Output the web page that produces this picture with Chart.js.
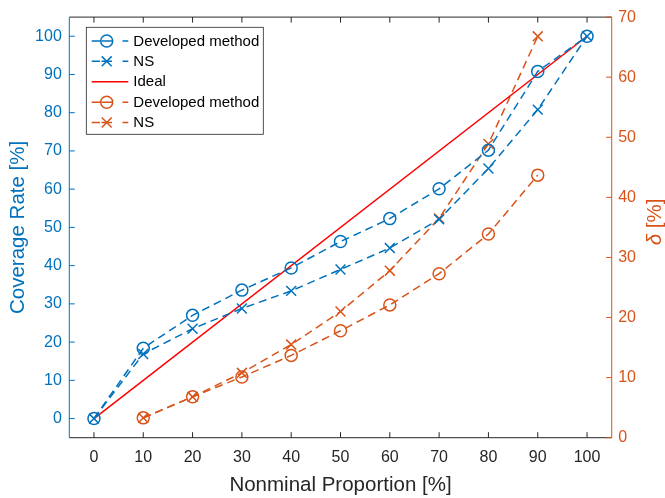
<!DOCTYPE html>
<html><head><meta charset="utf-8">
<script src="https://cdn.jsdelivr.net/npm/chart.js@4"></script>
<style>html,body{margin:0;padding:0;background:#fff}#wrap{width:665px;height:498px}</style>
</head><body><div id="wrap"><canvas id="c" width="665" height="498"></canvas></div>
<script>
// ---- data ----
const proportions = [0, 10, 20, 30, 40, 50, 60, 70, 80, 90, 100];
const coverageDeveloped = [0, 18.4, 27.0, 33.6, 39.4, 46.3, 52.3, 60.1, 70.2, 90.8, 100];
const coverageNS = [0, 16.9, 23.5, 28.8, 33.4, 39.0, 44.6, 52.1, 65.4, 80.8, 100];
const idealX = [0, 100];
const idealY = [0, 100];
const deltaX = [10, 20, 30, 40, 50, 60, 70, 80, 90];
const deltaDeveloped = [3.3, 6.8, 10.1, 13.7, 17.8, 22.1, 27.3, 33.9, 43.7];
const deltaNS = [3.3, 6.8, 10.8, 15.5, 21.0, 27.8, 36.5, 48.9, 66.8];
const xTicks = [0, 10, 20, 30, 40, 50, 60, 70, 80, 90, 100];
const leftTicks = [0, 10, 20, 30, 40, 50, 60, 70, 80, 90, 100];
const rightTicks = [0, 10, 20, 30, 40, 50, 60, 70];
const labels = ['Developed method', 'NS', 'Ideal', 'Developed method', 'NS'];

const BLUE = '#0072BD', ORANGE = '#D95319', RED = '#FF0000', GRAY = '#262626';
const FONT = '"Liberation Sans", Arial, Helvetica, sans-serif';
const pts = (xs, ys) => xs.map((x, i) => ({x: x, y: ys[i]}));

const lineDash = [8, 5];
const datasets = [
  {label: labels[0], data: pts(proportions, coverageDeveloped), yAxisID: 'y', borderColor: BLUE, borderDash: lineDash, borderWidth: 1.5,
   pointStyle: 'circle', pointRadius: 6, pointBorderWidth: 1.5, pointBorderColor: BLUE, pointBackgroundColor: 'rgba(0,0,0,0)', fill: false, tension: 0},
  {label: labels[1], data: pts(proportions, coverageNS), yAxisID: 'y', borderColor: BLUE, borderDash: lineDash, borderWidth: 1.5,
   pointStyle: 'crossRot', pointRadius: 7, pointBorderWidth: 1.5, pointBorderColor: BLUE, pointBackgroundColor: 'rgba(0,0,0,0)', fill: false, tension: 0},
  {label: labels[2], data: pts(idealX, idealY), yAxisID: 'y', borderColor: RED, borderWidth: 1.5, pointRadius: 0, fill: false, tension: 0},
  {label: labels[3], data: pts(deltaX, deltaDeveloped), yAxisID: 'y2', borderColor: ORANGE, borderDash: lineDash, borderWidth: 1.5,
   pointStyle: 'circle', pointRadius: 6, pointBorderWidth: 1.5, pointBorderColor: ORANGE, pointBackgroundColor: 'rgba(0,0,0,0)', fill: false, tension: 0},
  {label: labels[4], data: pts(deltaX, deltaNS), yAxisID: 'y2', borderColor: ORANGE, borderDash: lineDash, borderWidth: 1.5,
   pointStyle: 'crossRot', pointRadius: 7, pointBorderWidth: 1.5, pointBorderColor: ORANGE, pointBackgroundColor: 'rgba(0,0,0,0)', fill: false, tension: 0}
];

const tickLen = 5.5;
const framePlugin = {
  id: 'frame',
  afterDatasetsDraw(chart) {
    const {ctx, chartArea: a, scales} = chart;
    ctx.save();
    ctx.lineWidth = 1;
    ctx.setLineDash([]);
    ctx.strokeStyle = GRAY;
    ctx.beginPath();
    ctx.moveTo(a.left, a.bottom); ctx.lineTo(a.right, a.bottom);
    ctx.moveTo(a.left, a.top); ctx.lineTo(a.right, a.top);
    xTicks.forEach(v => {
      const px = scales.x.getPixelForValue(v);
      ctx.moveTo(px, a.bottom); ctx.lineTo(px, a.bottom - tickLen);
      ctx.moveTo(px, a.top); ctx.lineTo(px, a.top + tickLen);
    });
    ctx.stroke();
    ctx.strokeStyle = BLUE;
    ctx.beginPath();
    ctx.moveTo(a.left, a.top); ctx.lineTo(a.left, a.bottom);
    leftTicks.forEach(v => {
      const py = scales.y.getPixelForValue(v);
      ctx.moveTo(a.left, py); ctx.lineTo(a.left + tickLen, py);
    });
    ctx.stroke();
    ctx.strokeStyle = ORANGE;
    ctx.beginPath();
    ctx.moveTo(a.right, a.top); ctx.lineTo(a.right, a.bottom);
    rightTicks.forEach(v => {
      const py = scales.y2.getPixelForValue(v);
      ctx.moveTo(a.right, py); ctx.lineTo(a.right - tickLen, py);
    });
    ctx.stroke();

    // axis titles
    ctx.fillStyle = GRAY;
    ctx.font = '20.5px ' + FONT;
    ctx.textAlign = 'center';
    ctx.textBaseline = 'alphabetic';
    ctx.fillText('Nonminal Proportion [%]', (a.left + a.right) / 2, 491);

    ctx.save();
    ctx.fillStyle = BLUE;
    ctx.translate(23.5, (a.top + a.bottom) / 2);
    ctx.rotate(-Math.PI / 2);
    ctx.fillText('Coverage Rate [%]', 0, 0);
    ctx.restore();

    ctx.save();
    ctx.fillStyle = ORANGE;
    ctx.translate(660.5, 222);
    ctx.rotate(-Math.PI / 2);
    const f1 = 'italic 20.5px ' + FONT, f2 = '20.5px ' + FONT;
    ctx.font = f1; const w1 = ctx.measureText('\u03B4').width;
    ctx.font = f2; const w2 = ctx.measureText(' [%]').width;
    ctx.textAlign = 'left';
    let sx = -(w1 + w2) / 2;
    ctx.font = f1; ctx.fillText('\u03B4', sx, 0);
    ctx.font = f2; ctx.fillText(' [%]', sx + w1, 0);
    ctx.restore();
    ctx.restore();
  },
  afterDraw(chart) {
    const {ctx} = chart;
    const bx = 86.3, by = 27.3, bw = 177, bh = 107;
    ctx.save();
    ctx.fillStyle = '#fff';
    ctx.fillRect(bx, by, bw, bh);
    ctx.strokeStyle = GRAY;
    ctx.lineWidth = 0.8;
    ctx.strokeRect(bx, by, bw, bh);
    const rowY = [41, 61.3, 81.8, 102.2, 122.5];
    chart.data.datasets.forEach((ds, i) => {
      const y = rowY[i];
      ctx.strokeStyle = ds.borderColor;
      ctx.lineWidth = 1.5;
      ctx.setLineDash([]);
      ctx.beginPath();
      if (ds.borderDash) {
        ctx.moveTo(91.7, y); ctx.lineTo(100, y);
        ctx.moveTo(101.5, y); ctx.lineTo(112, y);
        ctx.moveTo(122.5, y); ctx.lineTo(128.3, y);
      } else {
        ctx.moveTo(91.7, y); ctx.lineTo(128.3, y);
      }
      ctx.stroke();
      const cx = 106.7;
      if (ds.pointStyle === 'circle') {
        ctx.beginPath(); ctx.arc(cx, y, 6, 0, Math.PI * 2); ctx.stroke();
      } else if (ds.pointStyle === 'crossRot') {
        const r = 7 * Math.SQRT1_2;
        ctx.beginPath();
        ctx.moveTo(cx - r, y - r); ctx.lineTo(cx + r, y + r);
        ctx.moveTo(cx - r, y + r); ctx.lineTo(cx + r, y - r);
        ctx.stroke();
      }
      ctx.fillStyle = '#000';
      ctx.font = '15px ' + FONT;
      ctx.textAlign = 'left';
      ctx.textBaseline = 'middle';
      ctx.fillText(ds.label, 133.3, y + 0.5);
    });
    ctx.restore();
  }
};

new Chart(document.getElementById('c'), {
  type: 'line',
  data: {datasets: datasets},
  plugins: [framePlugin],
  options: {
    responsive: false,
    animation: false,
    devicePixelRatio: 1,
    layout: {padding: {top: 10.7, left: 0, right: 0, bottom: 0}},
    plugins: {legend: {display: false}, tooltip: {enabled: false}},
    scales: {
      x: {
        type: 'linear', min: -5, max: 105,
        afterBuildTicks: s => { s.ticks = xTicks.map(v => ({value: v})); },
        afterFit: s => { s.height = 60.3; },
        grid: {display: false, drawTicks: false},
        border: {display: false},
        ticks: {color: GRAY, font: {family: FONT, size: 16}, padding: 10, autoSkip: false, maxRotation: 0}
      },
      y: {
        type: 'linear', position: 'left', min: -5, max: 105,
        afterBuildTicks: s => { s.ticks = leftTicks.map(v => ({value: v})); },
        afterFit: s => { s.width = 69.3; },
        grid: {display: false, drawTicks: false},
        border: {display: false},
        ticks: {color: BLUE, font: {family: FONT, size: 16}, padding: 7.5, autoSkip: false}
      },
      y2: {
        type: 'linear', position: 'right', min: 0, max: 70,
        afterBuildTicks: s => { s.ticks = rightTicks.map(v => ({value: v})); },
        afterFit: s => { s.width = 53.3; },
        grid: {display: false, drawTicks: false},
        border: {display: false},
        ticks: {color: ORANGE, font: {family: FONT, size: 16}, padding: 6.5, autoSkip: false}
      }
    }
  }
});
</script>
</body></html>
